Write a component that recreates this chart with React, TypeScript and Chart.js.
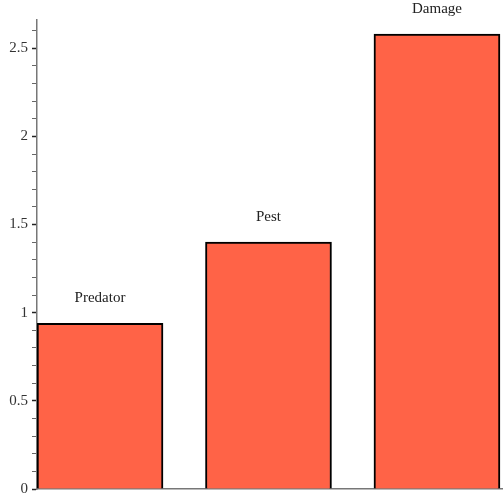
import React, { useEffect, useRef } from "react";
import { Chart, registerables } from "chart.js";

Chart.register(...registerables);

const categories = ["Predator", "Pest", "Damage"];
const positions = [1, 2, 3];
const values = [0.94, 1.4, 2.58];

const barLabelPlugin = {
  id: "barLabels",
  afterDatasetsDraw(chart: any) {
    const ctx = chart.ctx;
    const meta = chart.getDatasetMeta(0);
    ctx.save();
    ctx.font = "15px 'Liberation Serif', serif";
    ctx.fillStyle = "#222";
    ctx.textAlign = "center";
    ctx.textBaseline = "middle";
    meta.data.forEach((bar: any, i: number) => {
      ctx.fillText(categories[i], bar.x, bar.y - 25);
    });
    ctx.restore();
  },
};

export default function App() {
  const ref = useRef<HTMLCanvasElement>(null);
  useEffect(() => {
    document.body.style.margin = "0";
    const chart = new Chart(ref.current!, {
      type: "bar",
      data: {
        datasets: [
          {
            data: positions.map((p, i) => ({ x: p, y: values[i] })),
            backgroundColor: "#FF6347",
            borderColor: "#000",
            borderWidth: 2,
            barThickness: 126,
          },
        ],
      },
      options: {
        animation: false,
        responsive: false,
        maintainAspectRatio: false,
        layout: { padding: { top: 20, left: 0, right: 0, bottom: 0 } },
        plugins: { legend: { display: false }, tooltip: { enabled: false } },
        scales: {
          x: {
            type: "linear",
            offset: false,
            min: 0.626,
            max: 3.392,
            ticks: { display: false },
            grid: { display: false, drawTicks: false, offset: false },
            border: { display: true, color: "#777", width: 1.5 },
            afterFit(s: any) {
              s.height = 5;
            },
          },
          y: {
            min: 0,
            max: 2.66,
            ticks: {
              stepSize: 0.1,
              includeBounds: false,
              autoSkip: false,
              padding: 4,
              color: "#333",
              font: { family: "'Liberation Serif', serif", size: 15 },
              callback: (v: any) => {
                const n = Math.round(Number(v) * 10);
                if (n % 5 !== 0) return "";
                return String(n / 10);
              },
            },
            grid: {
              drawOnChartArea: false,
              drawTicks: true,
              tickLength: 5,
              tickColor: (c: any) => {
                const n = Math.round(Number(c.tick?.value) * 10);
                return n % 5 === 0 ? "#222" : "#666";
              },
              tickWidth: (c: any) => {
                const n = Math.round(Number(c.tick?.value) * 10);
                return n % 5 === 0 ? 1.5 : 1;
              },
            },
            border: { display: true, color: "#777", width: 1.5 },
            afterFit(s: any) {
              s.width = 37;
            },
          },
        },
      },
      plugins: [barLabelPlugin],
    } as any);
    return () => chart.destroy();
  }, []);
  return (
    <div style={{ width: 503, height: 493, overflow: "hidden" }}>
      <canvas ref={ref} width={503} height={502} style={{ display: "block" }} />
    </div>
  );
}
